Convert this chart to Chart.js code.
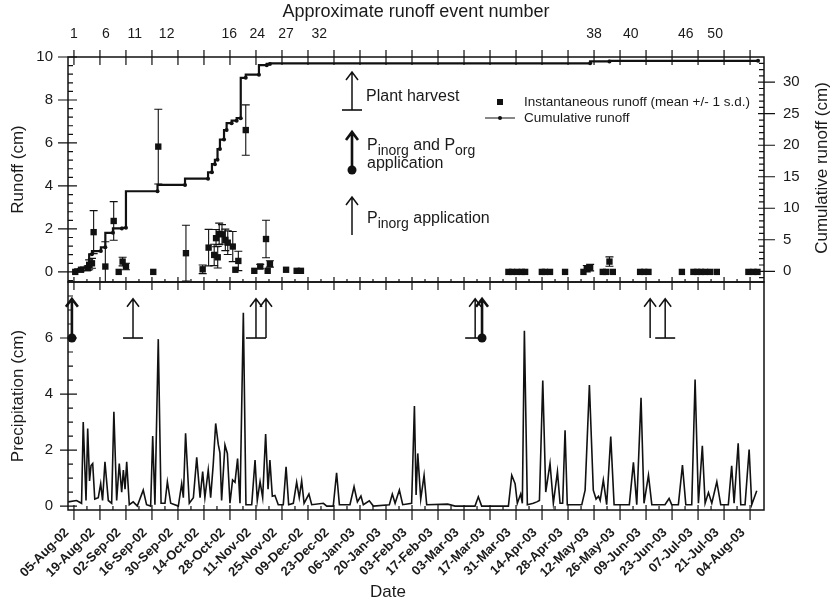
<!DOCTYPE html>
<html lang="en">
<head>
<meta charset="UTF-8">
<title>Runoff and precipitation</title>
<script src="https://cdn.jsdelivr.net/npm/chart.js"></script>
<style>
  body { margin: 0; background: #fff; }
  #wrap { position: relative; width: 834px; height: 609px; }
  canvas { position: absolute; left: 0; display: block; }
  #topChart { top: 0; }
  #botChart { top: 272px; }
</style>
</head>
<body>
<div id="wrap">
  <canvas id="topChart" width="834" height="292"></canvas>
  <canvas id="botChart" width="834" height="337"></canvas>
</div>
<script>
// x values are days after 05-Aug-02
const dateLabels = ["05-Aug-02", "19-Aug-02", "02-Sep-02", "16-Sep-02", "30-Sep-02", "14-Oct-02",
  "28-Oct-02", "11-Nov-02", "25-Nov-02", "09-Dec-02", "23-Dec-02", "06-Jan-03", "20-Jan-03",
  "03-Feb-03", "17-Feb-03", "03-Mar-03", "17-Mar-03", "31-Mar-03", "14-Apr-03", "28-Apr-03",
  "12-May-03", "26-May-03", "09-Jun-03", "23-Jun-03", "07-Jul-03", "21-Jul-03", "04-Aug-03"];
const dateTickDays = dateLabels.map((_, i) => i * 14);

const eventNumbers = [1, 6, 11, 12, 16, 24, 27, 32, 38, 40, 46, 50];
const eventDays = [0, 17.2, 32.8, 49.9, 83.6, 98.7, 114.2, 132.1, 280, 299.8, 329.4, 345.2];

const runoffTicks = [0, 2, 4, 6, 8, 10];
const cumTicks = [0, 5, 10, 15, 20, 25, 30];
const precipTicks = [0, 2, 4, 6];

// instantaneous runoff (cm), mean and 1 s.d.
const runoffDays = [0.7, 3.8, 7.4, 8.2, 9.7, 10.6, 16.9, 21.4, 24.1, 26.2,
  28.0, 42.7, 45.4, 60.3, 69.3, 72.5, 75.5, 76.5, 77.4, 78.2,
  79.7, 81.5, 82.8, 85.5, 86.9, 88.5, 92.5, 97.1, 100.3, 103.4,
  104.3, 105.5, 114.2, 119.9, 122.2, 233.9, 235.9, 238.6, 241.1, 242.9,
  251.9, 253.6, 256.3, 264.4, 274.3, 276.1, 277.9, 284.7, 286.5, 288.3,
  290.1, 304.8, 307.0, 309.3, 327.3, 333.5, 335.5, 337.6, 339.8, 342.5,
  346.1, 363.1, 365.8, 368.0];
const runoffCm = [0, 0.1, 0.17, 0.33, 0.4, 1.85, 0.25, 2.37, 0, 0.48,
  0.25, 0, 5.83, 0.87, 0.12, 1.13, 0.79, 1.57, 0.68, 1.77,
  1.75, 1.49, 1.36, 1.18, 0.1, 0.51, 6.6, 0.05, 0.25, 1.53,
  0.05, 0.37, 0.1, 0.05, 0.05, 0, 0, 0, 0, 0,
  0, 0, 0, 0, 0, 0.15, 0.2, 0, 0, 0.48,
  0, 0, 0, 0, 0, 0, 0, 0, 0, 0,
  0, 0, 0, 0];
const runoffSd = [0, 0.05, 0.1, 0.23, 0.23, 1.0, 1.15, 0.9, 0, 0.2,
  0.15, 0, 1.74, 1.3, 0.2, 0.85, 0.5, 0.4, 0.5, 0.5,
  0.45, 0.5, 0.55, 0.7, 0, 0.45, 1.17, 0, 0.1, 0.87,
  0, 0.15, 0, 0, 0, 0, 0, 0, 0, 0,
  0, 0, 0, 0, 0, 0.15, 0.15, 0, 0, 0.22,
  0, 0, 0, 0, 0, 0, 0, 0, 0, 0,
  0, 0, 0, 0];

// cumulative runoff (cm)
const cumDays = [0.7, 3.8, 7.4, 8.2, 9.7, 14.5, 16.9, 21.0, 25.8, 28.0,
  45.0, 59.8, 72.2, 74.3, 75.9, 77.3, 78.6, 80.8, 82.2, 84.9,
  87.6, 89.8, 92.5, 99.6, 103.8, 105.5, 277.9, 288.3, 368.3];
const cumCm = [0, 0.3, 0.6, 1.1, 2.7, 3.2, 3.8, 6.1, 6.8, 6.9,
  12.7, 13.7, 14.7, 15.7, 17.0, 17.7, 19.4, 20.9, 22.4, 23.5,
  23.9, 24.3, 30.7, 31.2, 32.7, 32.9, 33.0, 33.3, 33.4];

// precipitation (cm)
const precipDays = [-3.1, 1.4, 4.1, 5.0, 6.5, 7.4, 8.4, 9.2, 10.1, 11.2,
  13.1, 14.4, 15.4, 16.7, 18.5, 20.3, 21.5, 23.0, 24.4, 25.7,
  26.6, 27.5, 28.4, 29.8, 31.9, 34.1, 37.3, 39.1, 41.3, 42.4,
  43.6, 45.4, 46.9, 49.0, 50.3, 52.1, 56.2, 58.0, 58.9, 60.1,
  62.1, 64.3, 66.1, 67.9, 69.3, 70.5, 72.3, 73.6, 75.0, 76.3,
  77.7, 78.6, 79.5, 81.3, 82.6, 84.0, 85.4, 86.7, 88.1, 89.4,
  91.2, 92.6, 95.7, 97.5, 98.7, 100.2, 101.6, 103.2, 104.5, 105.5,
  106.8, 108.2, 110.0, 112.7, 114.2, 115.6, 118.1, 119.9, 121.3, 122.6,
  123.9, 126.5, 128.0, 134.3, 136.1, 139.6, 141.4, 142.9, 148.6, 150.8,
  152.6, 154.5, 155.8, 159.0, 161.2, 169.8, 171.4, 172.9, 175.2, 177.0,
  181.8, 183.3, 184.2, 185.1, 186.7, 188.5, 189.9, 201.2, 205.2, 215.9,
  217.7, 219.5, 233.9, 235.7, 237.5, 238.7, 240.5, 241.4, 242.5, 244.1,
  247.3, 249.2, 250.6, 252.4, 254.0, 256.3, 258.1, 260.3, 261.7, 263.1,
  264.4, 265.6, 273.4, 275.2, 277.5, 279.6, 281.1, 282.4, 283.3, 285.0,
  286.8, 289.0, 290.8, 299.0, 301.2, 303.0, 305.3, 306.9, 309.3, 311.1,
  318.2, 320.4, 321.8, 325.4, 327.6, 329.4, 332.6, 334.4, 336.2, 338.3,
  339.8, 341.6, 343.4, 346.1, 348.2, 352.3, 354.1, 355.4, 357.6, 359.0,
  361.3, 363.5, 364.9, 367.6];
const precipCm = [0.15, 0.2, 0.1, 3.0, 0.2, 2.77, 0.9, 1.45, 1.52, 0.25,
  0.3, 0.8, 0.2, 1.58, 0.2, 0.1, 3.37, 0.2, 1.52, 0.5,
  1.29, 0.6, 1.58, 0.05, 0.15, 0, 0.57, 0.05, 0, 2.5,
  0.05, 5.96, 0.1, 0.1, 0.87, 0.1, 0, 0.8, 0.3, 2.6,
  0.1, 0.3, 1.74, 0.3, 1.23, 0.3, 1.29, 0.3, 1.5, 2.95,
  2.2, 1.9, 0.2, 2.18, 1.88, 0.1, 0.93, 0.85, 1.7, 0.1,
  6.9, 0.05, 0.05, 1.64, 0.2, 0.87, 0.3, 2.57, 0.6, 1.64,
  0.35, 0.38, 0.05, 0.05, 1.4, 0.05, 0.1, 0.85, 0.3, 0.9,
  0.1, 0.43, 0.05, 0.1, 0, 0, 1.19, 0.05, 0.05, 0.69,
  0.15, 0.36, 0.05, 0.19, 0, 0.05, 0.43, 0.1, 0.57, 0.05,
  0.1, 3.57, 0.4, 1.88, 0.25, 1.1, 0.05, 0.07, 0, 0,
  0.33, 0, 0, 1.1, 0.8, 0.1, 0.43, 0.1, 6.26, 0.05,
  0.1, 0.15, 0.2, 4.48, 0.5, 1.52, 0.1, 1.23, 0.1, 0.1,
  2.71, 0.05, 0.05, 0.57, 4.32, 0.57, 0.25, 0.35, 0.2, 0.93,
  0.05, 2.48, 0.05, 0.05, 1.56, 0.05, 3.87, 0.1, 1.1, 0.05,
  0.05, 0.27, 0.05, 0.05, 1.46, 0.05, 0.05, 4.52, 0.1, 2.15,
  0.1, 0.48, 0.1, 0.87, 0.05, 0.05, 1.44, 0.1, 2.24, 0.05,
  0.05, 2.02, 0.05, 0.55];

// management events shown as arrows in the precipitation panel
const mgmtDays = [-1.1, 31.8, 98.0, 103.4, 216.0, 219.7, 310.2, 318.3];
const mgmtType = ["both", "harvest", "harvest", "inorg", "harvest", "both", "inorg", "harvest"];

const FONT = '"Liberation Sans", Arial, Helvetica, sans-serif';
const INK = "#111";
Chart.defaults.font.family = FONT;
Chart.defaults.color = "#1a1a1a";

const xMin = -3.2, xMax = 371.5;

function range(a, b, s) {
  const r = [];
  for (let v = a; v <= b + 1e-9; v += s) r.push(+v.toFixed(3));
  return r;
}
function minorOf(a, b, s, majors) {
  return range(a, b, s).filter(v => !majors.some(m => Math.abs(m - v) < 1e-6));
}

// tick marks drawn on the chart frame
const tickMarks = {
  id: "tickMarks",
  afterDraw(chart, args, opts) {
    const { ctx, chartArea: a } = chart;
    ctx.save();
    ctx.strokeStyle = INK;
    ctx.lineWidth = 1.2;
    opts.marks.forEach(m => {
      const s = chart.scales[m.scale];
      ctx.beginPath();
      m.values.forEach(v => {
        const p = s.getPixelForValue(v);
        if (m.edge === "left") { ctx.moveTo(a.left - m.out, p); ctx.lineTo(a.left + m.in, p); }
        else if (m.edge === "right") { ctx.moveTo(a.right + m.out, p); ctx.lineTo(a.right - m.in, p); }
        else if (m.edge === "top") { ctx.moveTo(p, a.top - m.out); ctx.lineTo(p, a.top + m.in); }
        else { ctx.moveTo(p, a.bottom + m.out); ctx.lineTo(p, a.bottom - m.in); }
      });
      ctx.stroke();
    });
    ctx.restore();
  }
};

const frame = {
  id: "frame",
  afterDraw(chart) {
    const { ctx, chartArea: a } = chart;
    ctx.save();
    ctx.strokeStyle = INK;
    ctx.lineWidth = 1.5;
    ctx.strokeRect(a.left, a.top, a.right - a.left, a.bottom - a.top);
    ctx.restore();
  }
};

const errorBars = {
  id: "errorBars",
  beforeDatasetsDraw(chart) {
    const { ctx, chartArea: a, scales: { x, y } } = chart;
    ctx.save();
    ctx.beginPath();
    ctx.rect(a.left, a.top, a.right - a.left, a.bottom - a.top);
    ctx.clip();
    ctx.strokeStyle = INK;
    ctx.lineWidth = 1.1;
    runoffDays.forEach((d, i) => {
      const sd = runoffSd[i];
      if (!sd) return;
      const px = x.getPixelForValue(d);
      const hi = y.getPixelForValue(runoffCm[i] + sd);
      const lo = y.getPixelForValue(runoffCm[i] - sd);
      ctx.beginPath();
      ctx.moveTo(px, hi); ctx.lineTo(px, lo);
      ctx.moveTo(px - 4, hi); ctx.lineTo(px + 4, hi);
      ctx.moveTo(px - 4, lo); ctx.lineTo(px + 4, lo);
      ctx.stroke();
    });
    ctx.restore();
  }
};

function drawMarker(ctx, x, yTip, yBase, type) {
  ctx.save();
  ctx.strokeStyle = INK;
  ctx.fillStyle = INK;
  ctx.lineWidth = type === "both" ? 2.6 : 1.5;
  ctx.beginPath();
  ctx.moveTo(x, yBase); ctx.lineTo(x, yTip);
  ctx.moveTo(x - 6, yTip + 8); ctx.lineTo(x, yTip); ctx.lineTo(x + 6, yTip + 8);
  ctx.stroke();
  if (type === "harvest") {
    ctx.lineWidth = 1.6;
    ctx.beginPath();
    ctx.moveTo(x - 10, yBase); ctx.lineTo(x + 10, yBase);
    ctx.stroke();
  } else if (type === "both") {
    ctx.beginPath();
    ctx.arc(x, yBase, 4.5, 0, Math.PI * 2);
    ctx.fill();
  }
  ctx.restore();
}

function drawRich(ctx, x, y, parts) {
  parts.forEach(([t, sub]) => {
    ctx.font = (sub ? "14px " : "16px ") + FONT;
    ctx.fillText(t, x, y + (sub ? 5 : 0));
    x += ctx.measureText(t).width;
  });
}

// legend, symbol key and right axis title for the runoff panel
const topKey = {
  id: "topKey",
  afterDraw(chart) {
    const ctx = chart.ctx;
    ctx.save();
    ctx.fillStyle = "#1a1a1a";
    ctx.strokeStyle = INK;

    drawMarker(ctx, 352, 72, 110, "harvest");
    drawMarker(ctx, 352, 132, 170, "both");
    drawMarker(ctx, 352, 197, 235, "inorg");

    ctx.textAlign = "left";
    ctx.textBaseline = "alphabetic";
    ctx.font = "16px " + FONT;
    ctx.fillText("Plant harvest", 366, 101);
    drawRich(ctx, 367, 150, [["P"], ["inorg", 1], [" and P"], ["org", 1]]);
    ctx.font = "16px " + FONT;
    ctx.fillText("application", 367, 168);
    drawRich(ctx, 367, 223, [["P"], ["inorg", 1], [" application"]]);

    ctx.fillStyle = INK;
    ctx.fillRect(497, 99, 6, 6);
    ctx.lineWidth = 1;
    ctx.beginPath();
    ctx.moveTo(485, 118); ctx.lineTo(515, 118);
    ctx.stroke();
    ctx.beginPath();
    ctx.arc(500, 118, 2, 0, Math.PI * 2);
    ctx.fill();
    ctx.fillStyle = "#1a1a1a";
    ctx.font = "13.5px " + FONT;
    ctx.textBaseline = "middle";
    ctx.fillText("Instantaneous runoff (mean +/- 1 s.d.)", 524, 102);
    ctx.fillText("Cumulative runoff", 524, 118);

    ctx.font = "17px " + FONT;
    ctx.textAlign = "center";
    ctx.translate(822, 168);
    ctx.rotate(-Math.PI / 2);
    ctx.fillText("Cumulative runoff (cm)", 0, 0);
    ctx.restore();
  }
};

const mgmtMarks = {
  id: "mgmtMarks",
  afterDatasetsDraw(chart) {
    const { ctx, scales: { x, y } } = chart;
    mgmtDays.forEach((d, i) => {
      drawMarker(ctx, x.getPixelForValue(d), y.getPixelForValue(7.4), y.getPixelForValue(6.0), mgmtType[i]);
    });
  }
};

const dateTitle = {
  id: "dateTitle",
  afterDraw(chart) {
    const ctx = chart.ctx;
    ctx.save();
    ctx.fillStyle = "#1a1a1a";
    ctx.font = "17px " + FONT;
    ctx.textAlign = "center";
    ctx.textBaseline = "middle";
    ctx.fillText("Date", 388, 320);
    ctx.restore();
  }
};

// grid hidden; tickLength only sets the gap between frame and labels
const gap = n => ({ display: false, drawTicks: true, tickLength: n });
const noBorder = { display: false };

new Chart(document.getElementById("topChart"), {
  data: {
    datasets: [
      {
        type: "scatter",
        label: "Instantaneous runoff",
        data: runoffDays.map((d, i) => ({ x: d, y: runoffCm[i] })),
        xAxisID: "x", yAxisID: "y",
        pointStyle: "rect", pointRadius: 4.5, borderWidth: 0,
        backgroundColor: INK
      },
      {
        type: "line",
        label: "Cumulative runoff",
        data: cumDays.map((d, i) => ({ x: d, y: cumCm[i] })),
        xAxisID: "x", yAxisID: "y2",
        stepped: "after", borderColor: INK, borderWidth: 2.2,
        pointRadius: 2, pointBackgroundColor: INK, pointBorderWidth: 0
      }
    ]
  },
  options: {
    responsive: false,
    animation: false,
    layout: { padding: 0, autoPadding: false },
    plugins: {
      legend: { display: false },
      tooltip: { enabled: false },
      tickMarks: {
        marks: [
          { scale: "y", edge: "left", values: runoffTicks, in: 9, out: 10 },
          { scale: "y", edge: "left", values: minorOf(-0.4, 9.6, 0.4, runoffTicks), in: 5, out: 0 },
          { scale: "y2", edge: "right", values: cumTicks, in: 6, out: 11 },
          { scale: "y2", edge: "right", values: minorOf(-1, 33, 1, cumTicks), in: 5, out: 0 },
          { scale: "x", edge: "top", values: dateTickDays, in: 8, out: 7 },
          { scale: "x", edge: "bottom", values: dateTickDays, in: 5, out: 8 },
          { scale: "x", edge: "bottom", values: dateTickDays.slice(0, -1).map(d => d + 7), in: 3, out: 0 }
        ]
      }
    },
    scales: {
      x: {
        type: "linear", position: "bottom", min: xMin, max: xMax,
        grid: gap(0), border: noBorder, ticks: { display: false },
        afterFit: s => { s.height = 10; }
      },
      xTop: {
        type: "linear", position: "top", min: xMin, max: xMax,
        grid: gap(14), border: noBorder,
        afterBuildTicks: s => { s.ticks = eventDays.map(v => ({ value: v })); },
        ticks: { autoSkip: false, maxRotation: 0, padding: 0, font: { size: 14 }, callback: (v, i) => eventNumbers[i] },
        title: { display: true, text: "Approximate runoff event number", font: { size: 18 }, padding: { top: 1, bottom: 0 } },
        afterFit: s => { s.height = 57; }
      },
      y: {
        position: "left", min: -0.47, max: 10,
        grid: gap(15), border: noBorder,
        afterBuildTicks: s => { s.ticks = runoffTicks.map(v => ({ value: v })); },
        ticks: { padding: 0, font: { size: 15 } },
        title: { display: true, text: "Runoff (cm)", font: { size: 17 }, padding: { top: 8, bottom: 0 } },
        afterFit: s => { s.width = 68; }
      },
      y2: {
        position: "right", min: -1.7, max: 34,
        grid: gap(19), border: noBorder,
        afterBuildTicks: s => { s.ticks = cumTicks.map(v => ({ value: v })); },
        ticks: { padding: 0, font: { size: 15 } },
        afterFit: s => { s.width = 70; }
      }
    }
  },
  plugins: [errorBars, frame, tickMarks, topKey]
});

new Chart(document.getElementById("botChart"), {
  type: "line",
  data: {
    datasets: [{
      label: "Precipitation",
      data: precipDays.map((d, i) => ({ x: d, y: precipCm[i] })),
      borderColor: INK, borderWidth: 1.6, pointRadius: 0, tension: 0
    }]
  },
  options: {
    responsive: false,
    animation: false,
    layout: { padding: { top: 10, right: 70, left: 0, bottom: 0 }, autoPadding: false },
    plugins: {
      legend: { display: false },
      tooltip: { enabled: false },
      tickMarks: {
        marks: [
          { scale: "y", edge: "left", values: precipTicks, in: 9, out: 8 },
          { scale: "y", edge: "left", values: minorOf(0.5, 7.5, 0.5, precipTicks), in: 5, out: 0 },
          { scale: "x", edge: "bottom", values: dateTickDays, in: 5, out: 10 },
          { scale: "x", edge: "bottom", values: dateTickDays.slice(0, -1).map(d => d + 7), in: 4, out: 0 }
        ]
      }
    },
    scales: {
      x: {
        type: "linear", position: "bottom", min: xMin, max: xMax,
        grid: gap(15), border: noBorder,
        afterBuildTicks: s => { s.ticks = dateTickDays.map(v => ({ value: v })); },
        ticks: {
          autoSkip: false, minRotation: 45, maxRotation: 45, padding: 0, labelOffset: -7,
          font: { size: 13, weight: "bold" }, callback: (v, i) => dateLabels[i]
        },
        afterFit: s => { s.height = 99; }
      },
      y: {
        position: "left", min: -0.14, max: 8,
        grid: gap(15), border: noBorder,
        afterBuildTicks: s => { s.ticks = precipTicks.map(v => ({ value: v })); },
        ticks: { padding: 0, font: { size: 15 } },
        title: { display: true, text: "Precipitation (cm)", font: { size: 17 }, padding: { top: 8, bottom: 0 } },
        afterFit: s => { s.width = 68; }
      }
    }
  },
  plugins: [frame, tickMarks, mgmtMarks, dateTitle]
});
</script>
</body>
</html>
